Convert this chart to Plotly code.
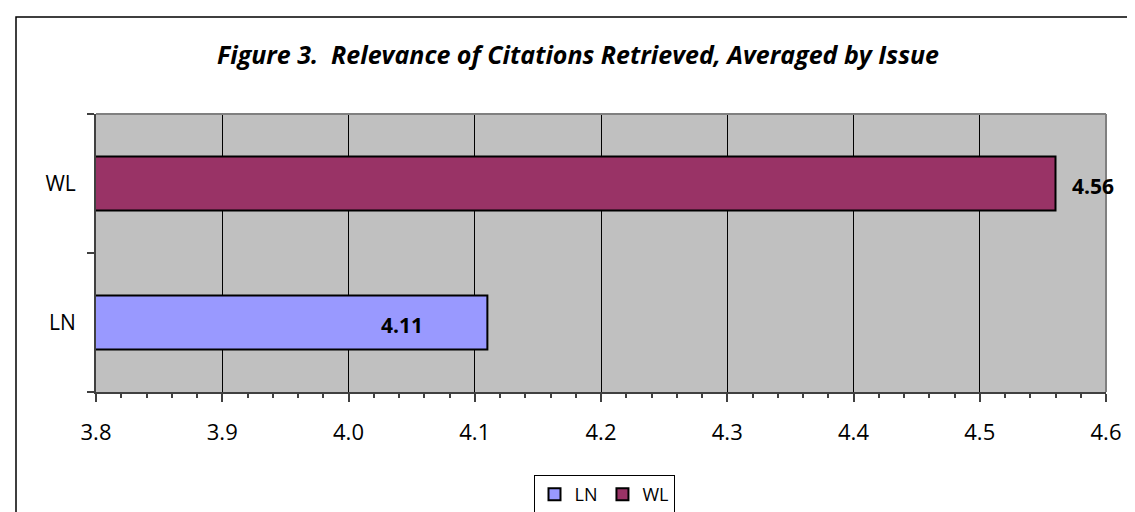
import plotly.graph_objects as go

categories = ["LN", "WL"]
values = [4.11, 4.56]
colors = ["#9999FF", "#993366"]
x_ticks = [3.8, 3.9, 4.0, 4.1, 4.2, 4.3, 4.4, 4.5, 4.6]
title_text = "<i><b>Figure 3.  Relevance of Citations Retrieved, Averaged by Issue</b></i>"

FONT = "Open Sans"
fig = go.Figure()
for cat, val, col in zip(categories, values, colors):
    fig.add_trace(go.Bar(
        y=[cat], x=[val], name=cat, orientation="h", width=0.39,
        marker=dict(color=col, line=dict(color="black", width=2)),
    ))

# value labels
label_shift = {"LN": (-62, "right"), "WL": (14, "left")}
for cat, val in zip(categories, values):
    sh, anc = label_shift[cat]
    fig.add_annotation(x=val, y=cat, text=f"<b>{val:.2f}</b>", showarrow=False,
                       xanchor=anc, xshift=sh, yshift=-2,
                       font=dict(family=FONT, size=21, color="black"))

W, H = 1135, 512
L, R, T, B = 88, 37, 106, 128
pw, ph = W - L - R, H - T - B

def px_x(p):
    return (p - L) / pw

def px_y(p):
    return (H - B - p) / ph

# outer chart border (no bottom edge visible)
fig.add_shape(type="rect", xref="paper", yref="paper",
              x0=px_x(8), x1=px_x(1140), y0=px_y(530), y1=px_y(9),
              line=dict(color="black", width=1.5), fillcolor="rgba(0,0,0,0)", layer="above")
# plot-area border (top/right gray)
fig.add_shape(type="line", xref="paper", yref="paper", x0=0, x1=1, y0=1, y1=1,
              line=dict(color="#808080", width=2), layer="above")
fig.add_shape(type="line", xref="paper", yref="paper", x0=1, x1=1, y0=0, y1=1,
              line=dict(color="#808080", width=2), layer="above")

fig.update_layout(
    width=W, height=H,
    margin=dict(l=L, r=R, t=T, b=B, autoexpand=False),
    paper_bgcolor="white", plot_bgcolor="#C0C0C0",
    barmode="overlay",
    showlegend=True,
    title=dict(text=title_text, x=570 / W, xanchor="center", y=1 - 47 / H, yanchor="middle",
               font=dict(family=FONT, size=25, color="black")),
    legend=dict(orientation="h", x=px_x(596), xanchor="center", y=px_y(467), yanchor="top",
                bordercolor="black", borderwidth=1, bgcolor="white",
                font=dict(family=FONT, size=18, color="black"),
                itemwidth=30, tracegroupgap=0),
    xaxis=dict(range=[3.8, 4.6], tickvals=x_ticks, ticktext=[f"{v:.1f}" for v in x_ticks],
               showgrid=True, gridcolor="black", gridwidth=1,
               ticks="outside", ticklen=8, tickcolor="#404040", tickwidth=1.5,
               minor=dict(dtick=0.02, ticks="outside", ticklen=4, tickcolor="#404040", showgrid=False),
               showline=True, linecolor="#404040", linewidth=2, zeroline=False,
               tickfont=dict(family=FONT, size=22, color="black"), ticklabelstandoff=12),
    yaxis=dict(type="category", categoryorder="array", categoryarray=categories,
               range=[-0.5, 1.5], tickson="boundaries", ticks="outside", ticklen=7,
               tickcolor="#404040", tickwidth=1.5, showgrid=False,
               showline=True, linecolor="#404040", linewidth=2,
               tickfont=dict(family=FONT, size=21, color="black"), ticklabelstandoff=14),
)

fig.write_html("out.html")
